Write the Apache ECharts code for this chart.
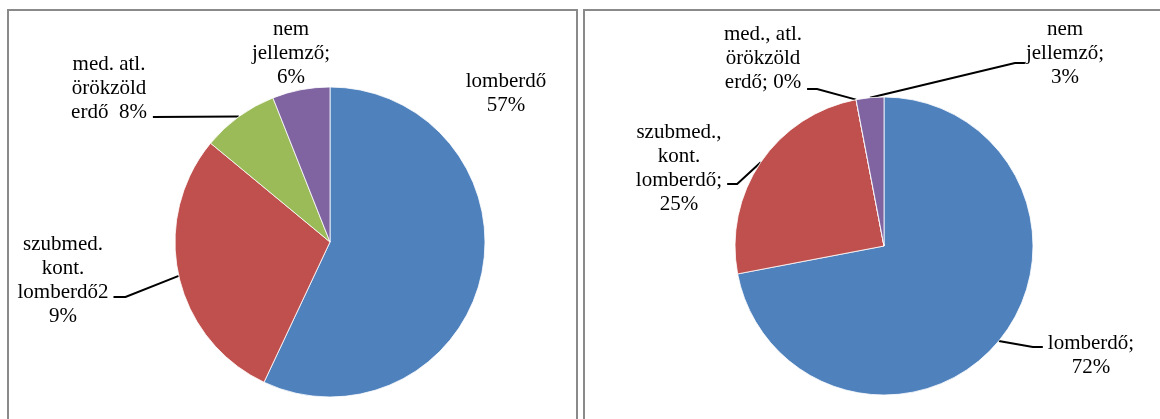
<!DOCTYPE html>
<html>
<head>
<meta charset="utf-8">
<script src="https://cdn.jsdelivr.net/npm/echarts@6/dist/echarts.min.js"></script>
<style>
html,body{margin:0;padding:0;background:#fff;}
#c{width:1160px;height:419px;}
</style>
</head>
<body>
<div id="c"></div>
<script>
// ---- data ----
const leftNames = ['lomberdő', 'szubmed. kont. lomberdő', 'med. atl. örökzöld erdő', 'nem jellemző'];
const leftValues = [57, 29, 8, 6];
const leftLabels = ['lomberdő\n57%', 'szubmed.\nkont.\nlomberdő2\n9%', 'med. atl.\nörökzöld\nerdő  8%', 'nem\njellemző;\n6%'];

const rightNames = ['lomberdő', 'szubmed., kont. lomberdő', 'med., atl. örökzöld erdő', 'nem jellemző'];
const rightValues = [72, 25, 0, 3];
const rightLabels = ['lomberdő;\n72%', 'szubmed.,\nkont.\nlomberdő;\n25%', 'med., atl.\nörökzöld\nerdő; 0%', 'nem\njellemző;\n3%'];

const colors = ['#4F81BD', '#C0504D', '#9BBB59', '#8064A2'];

// ---- label layout (text placement, not data) ----
const leftLayout = [
  {x: 506, y: 93, line: false},
  {x: 63, y: 280, line: true, side: 'right', dy: 17, gap: 5, elbow: 12},
  {x: 109, y: 88, line: true, side: 'right', dy: 29, gap: 6, elbow: 0},
  {x: 291, y: 53, line: false}
];
const rightLayout = [
  {x: 1091, y: 355, line: true, side: 'left', dy: -8, gap: 5, elbow: 10},
  {x: 679, y: 168, line: true, side: 'right', dy: 16, gap: 5, elbow: 10},
  {x: 763, y: 58, line: true, side: 'right', dy: 31, gap: 5, elbow: 10},
  {x: 1065, y: 53, line: true, side: 'left', dy: 10, gap: 1, elbow: 10}
];

function makeData(names, values, labels, layout) {
  return names.map((n, i) => ({
    name: n,
    value: values[i],
    itemStyle: {color: colors[i]},
    label: {formatter: labels[i]},
    labelLine: {show: layout[i].line}
  }));
}

function makeLayout(layout) {
  return function (params) {
    const L = layout[params.dataIndex];
    const res = {x: L.x, y: L.y, align: 'center', verticalAlign: 'middle'};
    if (L.line && params.labelLinePoints) {
      const w = params.labelRect.width;
      const p0 = params.labelLinePoints[0];
      const ax = L.side === 'right' ? L.x + w / 2 + L.gap : L.x - w / 2 - L.gap;
      const ay = L.y + L.dy;
      const ex = L.side === 'right' ? ax + L.elbow : ax - L.elbow;
      res.labelLinePoints = [[p0[0], p0[1]], [ex, ay], [ax, ay]];
    }
    return res;
  };
}

const labelStyle = {
  show: true,
  position: 'outside',
  color: '#000',
  fontFamily: 'Liberation Serif',
  fontSize: 21,
  lineHeight: 24,
  align: 'center'
};
const lineStyle = {lineStyle: {color: '#000', width: 2}, length: 10, length2: 10};

const chart = echarts.init(document.getElementById('c'), null, {renderer: 'canvas'});
chart.setOption({
  animation: false,
  backgroundColor: '#fff',
  graphic: [
    {type: 'rect', shape: {x: 8, y: 10, width: 569, height: 430}, style: {fill: 'none', stroke: '#8a8a8a', lineWidth: 2}, silent: true},
    {type: 'rect', shape: {x: 584, y: 10, width: 620, height: 430}, style: {fill: 'none', stroke: '#8a8a8a', lineWidth: 2}, silent: true}
  ],
  series: [
    {
      type: 'pie',
      center: [330, 242],
      radius: 155,
      startAngle: 90,
      clockwise: true,
      avoidLabelOverlap: false,
      emphasis: {disabled: true},
      itemStyle: {borderColor: '#fff', borderWidth: 0.8},
      label: labelStyle,
      labelLine: lineStyle,
      labelLayout: makeLayout(leftLayout),
      data: makeData(leftNames, leftValues, leftLabels, leftLayout)
    },
    {
      type: 'pie',
      center: [884, 246],
      radius: 149,
      startAngle: 90,
      clockwise: true,
      avoidLabelOverlap: false,
      emphasis: {disabled: true},
      itemStyle: {borderColor: '#fff', borderWidth: 0.8},
      label: labelStyle,
      labelLine: lineStyle,
      labelLayout: makeLayout(rightLayout),
      data: makeData(rightNames, rightValues, rightLabels, rightLayout)
    }
  ]
});
</script>
</body>
</html>
